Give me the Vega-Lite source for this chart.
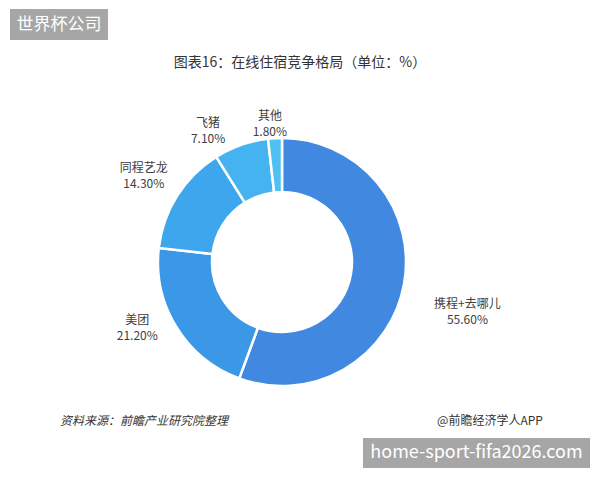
{
  "$schema": "https://vega.github.io/schema/vega-lite/v6.json",
  "background": "white",
  "padding": {"left": 10, "top": 9, "right": 0, "bottom": 0},
  "spacing": 0,
  "config": {
    "view": {"stroke": null},
    "font": "Noto Sans CJK SC",
    "text": {"font": "Noto Sans CJK SC"},
    "title": {"font": "Noto Sans CJK SC"}
  },
  "vconcat": [
    {
      "hconcat": [
        {
          "width": 98,
          "height": 31,
          "view": {"fill": "#a6a6a6", "stroke": null},
          "data": {"values": [{"t": "世界杯公司"}]},
          "mark": {"type": "text", "color": "white", "fontSize": 17, "align": "center", "baseline": "middle"},
          "encoding": {"text": {"field": "t"}}
        },
        {
          "vconcat": [
            {
              "width": 348,
              "height": 46,
              "data": {"values": [{}]},
              "mark": "text",
              "encoding": {"text": {"value": ""}}
            },
            {
              "width": 348,
              "height": 296,
              "title": {
                "text": "图表16：在线住宿竞争格局（单位：%）",
                "fontSize": 14,
                "fontWeight": "normal",
                "color": "#333333",
                "anchor": "middle",
                "dx": 18,
                "offset": 40
              },
              "data": {
                "values": [
                  {"name": "携程+去哪儿", "share": 0.556},
                  {"name": "美团", "share": 0.212},
                  {"name": "同程艺龙", "share": 0.143},
                  {"name": "飞猪", "share": 0.071},
                  {"name": "其他", "share": 0.018}
                ]
              },
              "transform": [
                {"calculate": "[datum.name, format(datum.share, '.2%')]", "as": "label"}
              ],
              "resolve": {"scale": {"theta": "independent"}},
              "layer": [
                {
                  "mark": {"type": "arc", "outerRadius": 124, "innerRadius": 70, "stroke": "white", "strokeWidth": 2.5},
                  "encoding": {
                    "theta": {"field": "share", "type": "quantitative", "stack": true},
                    "order": {"field": "share", "type": "quantitative", "sort": "descending"},
                    "color": {
                      "field": "name",
                      "type": "nominal",
                      "scale": {
                        "domain": ["携程+去哪儿", "美团", "同程艺龙", "飞猪", "其他"],
                        "range": ["#4189e0", "#3b98e7", "#3ea6ec", "#45b3f0", "#4fc0f4"]
                      },
                      "legend": null
                    }
                  }
                },
                {
                  "mark": {"type": "text", "fontSize": 12, "lineHeight": 16, "color": "#404040", "align": "center", "baseline": "middle", "dy": -8},
                  "encoding": {
                    "theta": {
                      "field": "share",
                      "type": "quantitative",
                      "stack": true,
                      "scale": {
                        "type": "linear",
                        "zero": false,
                        "nice": false,
                        "domain": [0, 0.278, 0.662, 0.8395, 0.9465, 0.991, 1],
                        "range": [0, 1.833, 4.285, 5.271, 5.768, 6.196, 6.2832]
                      }
                    },
                    "order": {"field": "share", "type": "quantitative", "sort": "descending"},
                    "text": {"field": "label"},
                    "radius": {
                      "field": "share",
                      "type": "quantitative",
                      "scale": {
                        "type": "linear",
                        "zero": false,
                        "nice": false,
                        "domain": [0.018, 0.071, 0.143, 0.212, 0.556],
                        "range": [139, 150, 163, 159, 192]
                      }
                    }
                  }
                }
              ]
            }
          ],
          "spacing": 0
        }
      ],
      "spacing": 0
    },
    {
      "hconcat": [
        {
          "width": 48,
          "height": 28,
          "data": {"values": [{}]},
          "mark": "text",
          "encoding": {"text": {"value": ""}}
        },
        {
          "width": 172,
          "height": 28,
          "data": {"values": [{"t": "资料来源：前瞻产业研究院整理"}]},
          "mark": {"type": "text", "fontSize": 12, "fontStyle": "italic", "color": "#333333", "align": "center", "baseline": "middle", "dy": -3},
          "encoding": {"text": {"field": "t"}}
        },
        {
          "width": 203,
          "height": 28,
          "data": {"values": [{}]},
          "mark": "text",
          "encoding": {"text": {"value": ""}}
        },
        {
          "width": 114,
          "height": 28,
          "data": {"values": [{"t": "@前瞻经济学人APP"}]},
          "mark": {"type": "text", "fontSize": 12, "color": "#333333", "align": "center", "baseline": "middle", "dy": -3},
          "encoding": {"text": {"field": "t"}}
        }
      ],
      "spacing": 0
    },
    {
      "hconcat": [
        {
          "width": 353,
          "height": 30,
          "data": {"values": [{}]},
          "mark": "text",
          "encoding": {"text": {"value": ""}}
        },
        {
          "width": 227,
          "height": 30,
          "view": {"fill": "#a6a6a6", "stroke": null},
          "data": {"values": [{"t": "home-sport-fifa2026.com"}]},
          "mark": {"type": "text", "color": "white", "fontSize": 18, "align": "center", "baseline": "middle"},
          "encoding": {"text": {"field": "t"}}
        }
      ],
      "spacing": 0
    }
  ]
}
